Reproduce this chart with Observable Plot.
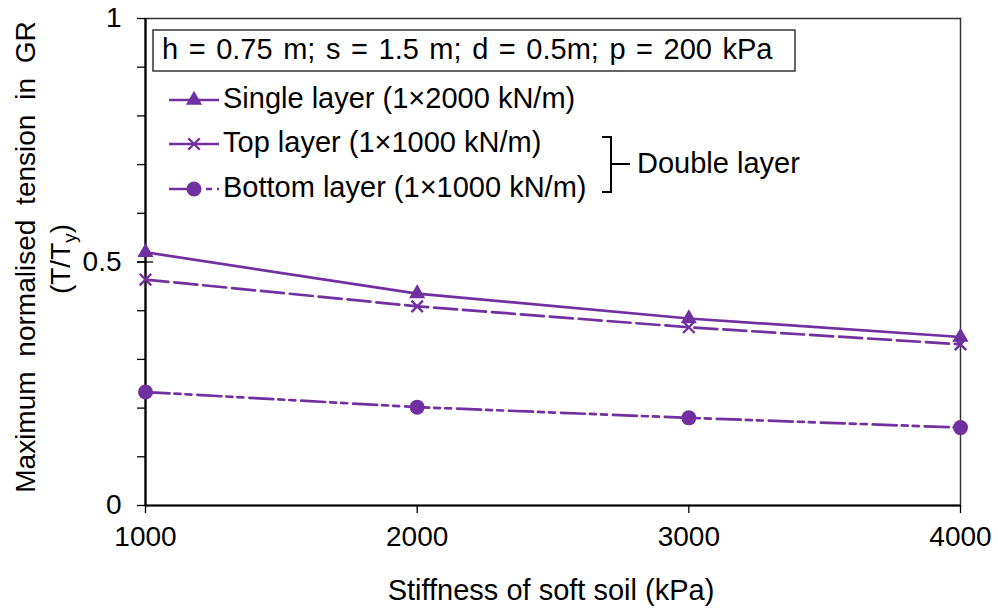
<!DOCTYPE html>
<html>
<head>
<meta charset="utf-8">
<script src="https://cdn.jsdelivr.net/npm/d3@7"></script>
<script src="https://cdn.jsdelivr.net/npm/@observablehq/plot@0.6"></script>
<style>
  html, body { margin: 0; padding: 0; background: white; }
  #chart svg { display: block; }
</style>
</head>
<body>
<div id="chart"></div>
<script>
// ---- data ----
const stiffness = [1000, 2000, 3000, 4000];
const singleLayer = [0.520, 0.435, 0.384, 0.346];
const topLayer = [0.464, 0.409, 0.366, 0.331];
const bottomLayer = [0.233, 0.202, 0.180, 0.160];
const yTickValues = [0, 0.1, 0.2, 0.3, 0.4, 0.5, 0.6, 0.7, 0.8, 0.9, 1];
const yTickLabels = ["0", "", "", "", "", "0.5", "", "", "", "", "1"];
const xTickLabels = ["1000", "2000", "3000", "4000"];
const seriesNames = ["Single layer (1×2000 kN/m)", "Top layer (1×1000 kN/m)", "Bottom layer (1×1000 kN/m)"];
const boxText = "h = 0.75 m; s = 1.5 m; d = 0.5m; p = 200 kPa";
const bracketText = "Double layer";
const xTitle = "Stiffness of soft soil (kPa)";
const yTitle1 = "Maximum normalised tension in GR";

const purple = "#7030A0";
const font = "'Liberation Sans', Arial, sans-serif";

const rows = (vals) => stiffness.map((x, i) => ({x, y: vals[i]}));
const singleRows = rows(singleLayer), topRows = rows(topLayer), bottomRows = rows(bottomLayer);

const styles = [
  {dash: null, symbol: "triangle", r: 6},
  {dash: "23,6", symbol: "times", r: 5.3},
  {dash: "24,5,6,5,6,6", symbol: "circle", r: 7.5}
];

const chart = Plot.plot({
  width: 998, height: 612,
  marginLeft: 145, marginRight: 38, marginTop: 18, marginBottom: 107,
  style: {fontFamily: font, fontSize: "28px", background: "white", color: "black"},
  x: {domain: [1000, 4000]},
  y: {domain: [0, 1]},
  marks: [
    Plot.frame({stroke: "#333", strokeWidth: 1.5}),
    Plot.axisY(yTickValues, {tickSize: 8, tickPadding: 16, strokeWidth: 1.3,
      tickFormat: (d) => yTickLabels[yTickValues.indexOf(d)], label: null, fontSize: 28}),
    Plot.axisY([0.5], {tickSize: 16, dx: 8, strokeWidth: 1.3, tickFormat: () => "", label: null}),
    Plot.axisX(stiffness, {tickSize: 8, tickPadding: 13, strokeWidth: 1.3,
      tickFormat: d => xTickLabels[stiffness.indexOf(d)], label: null, fontSize: 28}),
    Plot.ruleX([1000], {stroke: "black", strokeWidth: 2.2}),
    Plot.ruleY([0], {stroke: "black", strokeWidth: 2.2}),
    Plot.line(singleRows, {x: "x", y: "y", stroke: purple, strokeWidth: 2.7}),
    Plot.line(topRows, {x: "x", y: "y", stroke: purple, strokeWidth: 2.7, strokeDasharray: styles[1].dash}),
    Plot.line(bottomRows, {x: "x", y: "y", stroke: purple, strokeWidth: 2.7, strokeDasharray: styles[2].dash}),
    Plot.dot(singleRows, {x: "x", y: "y", symbol: "triangle", r: styles[0].r, fill: purple, stroke: "none"}),
    Plot.dot(topRows, {x: "x", y: "y", symbol: "times", r: styles[1].r, stroke: purple, strokeWidth: 2.4, fill: "none"}),
    Plot.dot(bottomRows, {x: "x", y: "y", symbol: "circle", r: styles[2].r, fill: purple, stroke: "none"})
  ]
});

document.getElementById("chart").appendChild(chart);

// ---- annotations: titles, legend ----
const svg = d3.select(chart);
const g = svg.append("g").attr("font-family", font).attr("font-size", 29).attr("fill", "black")
  .attr("text-anchor", "start");

// x title
g.append("text").attr("x", 551).attr("y", 592).attr("text-anchor", "middle")
  .attr("dominant-baseline", "middle").text(xTitle);

// y title (two lines)
g.append("text").attr("transform", "translate(35,257) rotate(-90)").attr("text-anchor", "middle")
  .attr("font-size", 28).attr("word-spacing", 7).text(yTitle1);
const t2 = g.append("text").attr("transform", "translate(70,259) rotate(-90)").attr("text-anchor", "middle")
  .attr("font-size", 28);
t2.append("tspan").text("(T/T");
t2.append("tspan").attr("font-size", 19).attr("dy", 6).text("y");
t2.append("tspan").attr("dy", -6).text(")");

// parameter box
g.append("rect").attr("x", 153).attr("y", 30).attr("width", 642).attr("height", 41)
  .attr("fill", "white").attr("stroke", "#333").attr("stroke-width", 1.5);
g.append("text").attr("x", 162).attr("y", 51).attr("dominant-baseline", "middle")
  .attr("text-anchor", "start").attr("word-spacing", 2.5).text(boxText);

// legend entries
const rowY = [100, 144, 189];
seriesNames.forEach((name, i) => {
  const y = rowY[i];
  const st = styles[i];
  const ln = g.append("line").attr("x1", 169).attr("x2", 219).attr("y1", y).attr("y2", y)
    .attr("stroke", purple).attr("stroke-width", 2.7);
  if (i === 2) ln.attr("stroke-dasharray", "32,5,6,5,6,6");
  const sym = {triangle: d3.symbolTriangle, times: d3.symbolTimes, circle: d3.symbolCircle}[st.symbol];
  const p = g.append("path").attr("transform", `translate(194,${y})`)
    .attr("d", d3.symbol(sym, Math.PI * st.r * st.r)());
  if (st.symbol === "times") p.attr("fill", "none").attr("stroke", purple).attr("stroke-width", 2.4);
  else p.attr("fill", purple);
  g.append("text").attr("x", 223).attr("y", y).attr("dominant-baseline", "middle")
    .attr("text-anchor", "start").text(name);
});

// bracket
g.append("path").attr("d", "M602,137 H611 V192 H602 M611,164 H630")
  .attr("fill", "none").attr("stroke", "black").attr("stroke-width", 2);
g.append("text").attr("x", 637).attr("y", 165).attr("dominant-baseline", "middle")
  .attr("text-anchor", "start").text(bracketText);
</script>
</body>
</html>
